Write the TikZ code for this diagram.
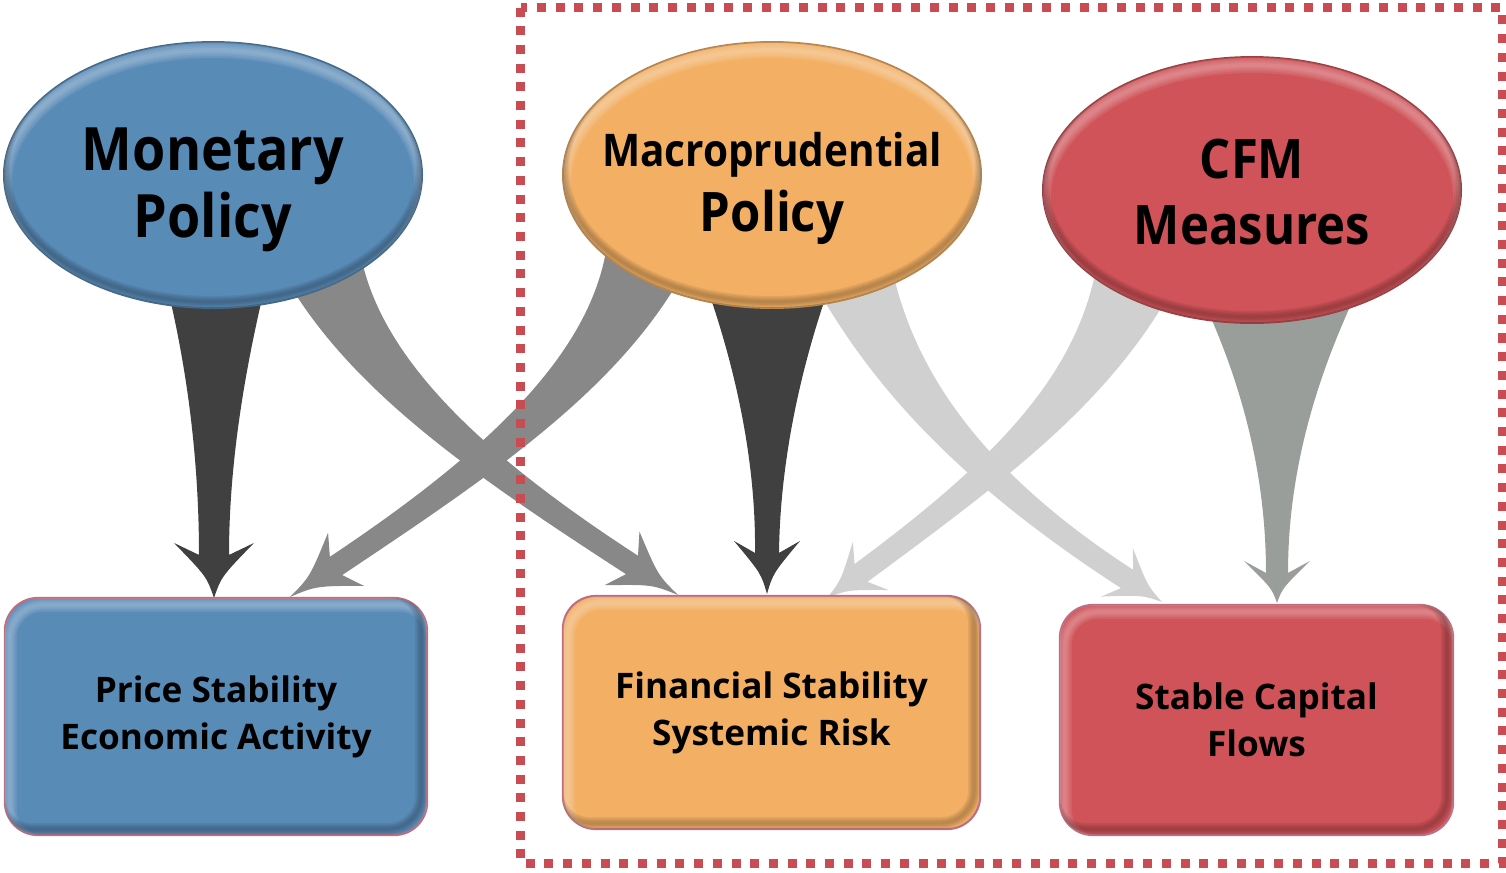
\documentclass[tikz,border=0pt]{standalone}
\usepackage{fontspec}
\setmainfont{Open Sans}
\newfontfamily\headfont{Open Sans}[FakeStretch=0.9]
\usetikzlibrary{calc}
\usetikzlibrary{shapes.geometric}
\usetikzlibrary{backgrounds}

\definecolor{monblue}{RGB}{89,139,183}
\definecolor{macorange}{RGB}{243,176,101}
\definecolor{cfmred}{RGB}{207,83,88}
\definecolor{darkarrow}{RGB}{64,64,64}
\definecolor{midarrow}{RGB}{136,136,136}
\definecolor{lightarrow}{RGB}{208,208,208}
\definecolor{sagearrow}{RGB}{153,158,154}
\definecolor{frame}{RGB}{200,76,82}
\definecolor{rim}{RGB}{190,110,130}

\tikzset{
  bubble/.style={ellipse, minimum width=4.18cm, minimum height=2.66cm, inner sep=0pt,
    outer sep=0pt, fill=#1, draw=#1!75!black, line width=0.5pt},
  bubbletext/.style={font=\headfont\bfseries\fontsize{17}{19}\selectfont, align=center, inner sep=0pt},
  goal/.style={rounded corners=0.33cm, fill=#1, draw=rim, line width=0.6pt, inner sep=0pt,
    outer sep=0pt, align=center, font=\bfseries\fontsize{10}{13.3}\selectfont},
}

% tapered arrow: colour, tail, control 1, control 2, neck, tip,
% half width at tail, half width at neck, half span of the head
\newcommand\taper[9]{%
  \pgfmathsetlengthmacro\wmid{#8+0.35*(#7-#8)}%
  \pgfmathsetlengthmacro\wctl{0.5*#8}%
  \coordinate (t0) at #2;
  \coordinate (t1) at #3;
  \coordinate (t2) at #4;
  \coordinate (t3) at #5;
  \coordinate (tip) at #6;
  \coordinate (back) at ($(t3)!0.12cm!180:(tip)$);
  \coordinate (half) at ($(t3)!0.5!(tip)$);
  \fill[#1] ($(t0)!#7!90:(t1)$) .. controls ($(t1)!\wmid!90:(t2)$) and ($(t2)!#8!90:(t3)$) .. ($(t3)!#8!90:(tip)$)
    -- ($(back)!#9!90:(t3)$) .. controls ($(half)!\wctl!90:(tip)$) .. (tip)
    .. controls ($(half)!\wctl!-90:(tip)$) .. ($(back)!#9!-90:(t3)$)
    -- ($(t3)!#8!-90:(tip)$) .. controls ($(t2)!#8!-90:(t3)$) and ($(t1)!\wmid!-90:(t2)$) .. ($(t0)!#7!-90:(t1)$)
    -- cycle;
}

% soft bevel on the ellipses and on the boxes
\newcommand\shadebubble[2]{%
  \begin{scope}
    \clip (#1.center) ellipse [x radius=209, y radius=133];
    \foreach \w in {0.04,0.08,0.12,0.16}
      \draw[#2!30!white, line width=\w cm, opacity=.13] ([yshift=-0.08cm]#1.center) ellipse [x radius=209, y radius=133];
    \foreach \w in {0.03,0.06,0.09,0.12}
      \draw[#2!45!black, line width=\w cm, opacity=.13] ([yshift=0.06cm]#1.center) ellipse [x radius=209, y radius=133];
  \end{scope}}
\newcommand\shadegoal[2]{%
  \begin{scope}[rounded corners=0.33cm]
    \clip (#1.north west) rectangle (#1.south east);
    \foreach \w in {0.035,0.07,0.105,0.14}
      \draw[#2!30!white, line width=\w cm, opacity=.12] ([shift={(5,7)}]#1.north west) rectangle ([shift={(5,7)}]#1.south east);
    \foreach \w in {0.03,0.06,0.09,0.12}
      \draw[#2!45!black, line width=\w cm, opacity=.12] ([shift={(-6,-6)}]#1.north west) rectangle ([shift={(-6,-6)}]#1.south east);
  \end{scope}}

\begin{document}
\begin{tikzpicture}[x=0.01cm,y=-0.01cm]
  \useasboundingbox (0,0) rectangle (1506,872);

  % policies
  \node[bubble=monblue] (mon) at (213,175) {};
  \node[bubble=macorange] (mac) at (772,175) {};
  \node[bubble=cfmred] (cfm) at (1252,190) {};

  % objectives
  \node[goal=monblue, minimum width=4.22cm, minimum height=2.37cm] (price) at (216,716.5) {Price Stability\\Economic Activity};
  \node[goal=macorange, minimum width=4.17cm, minimum height=2.33cm] (fin) at (771.5,712.5) {Financial Stability\\Systemic Risk};
  \node[goal=cfmred, minimum width=3.93cm, minimum height=2.30cm] (flows) at (1256.5,720) {Stable Capital\\Flows};

  \foreach \n/\c in {mon/monblue, mac/macorange, cfm/cfmred}
    \shadebubble{\n}{\c};
  \foreach \n/\c in {price/monblue, fin/macorange, flows/cfmred}
    \shadegoal{\n}{\c};

  \node[bubbletext] (montext) at ([yshift=-0.15cm]mon.center) {Monetary\\Policy};
  \node[bubbletext, font=\headfont\bfseries\fontsize{15.5}{18.5}\selectfont] (mactext) at ([yshift=-0.13cm]mac.center)
    {{\fontsize{12.8}{15}\selectfont Macroprudential}\\Policy};
  \node[bubbletext, font=\headfont\bfseries\fontsize{15.5}{19}\selectfont] (cfmtext) at ([yshift=-0.02cm]cfm.center) {CFM\\Measures};

  \begin{pgfonlayer}{background}
    \taper{lightarrow}{([shift={(80,-38)}]mac.south)}{([shift={(122,75)}]mac.south)}
      {([shift={(-280.5,-124)}]flows.north)}{([shift={(-129.5,-26)}]flows.north)}{([shift={(-94.5,-3)}]flows.north)}
      {0.40cm}{0.11cm}{0.29cm}
    \taper{lightarrow}{([shift={(-117,-48)}]cfm.south)}{([shift={(-159,65)}]cfm.south)}
      {([shift={(234.5,-130)}]fin.north)}{([shift={(89.5,-23)}]fin.north)}{([shift={(55.5,2)}]fin.north)}
      {0.40cm}{0.11cm}{0.30cm}
    \taper{midarrow}{([shift={(109,-46)}]mon.south)}{([shift={(151,67)}]mon.south)}
      {([shift={(-290.5,-129)}]fin.north)}{([shift={(-139.5,-31)}]fin.north)}{([shift={(-93.5,-1)}]fin.north)}
      {0.40cm}{0.11cm}{0.32cm}
    \taper{midarrow}{([shift={(-128,-46)}]mac.south)}{([shift={(-170,67)}]mac.south)}
      {([shift={(270,-132)}]price.north)}{([shift={(120,-32)}]price.north)}{([shift={(74,-1)}]price.north)}
      {0.40cm}{0.11cm}{0.32cm}
    \taper{sagearrow}{([shift={(26,-23)}]cfm.south)}{([shift={(26,67)}]cfm.south)}
      {([shift={(20.5,-125)}]flows.north)}{([shift={(20.5,-32)}]flows.north)}{([shift={(20.5,-2)}]flows.north)}
      {0.75cm}{0.11cm}{0.33cm}
    \taper{darkarrow}{([shift={(3,-18)}]mon.south)}{([shift={(3,72)}]mon.south)}
      {([shift={(-2,-128)}]price.north)}{([shift={(-2,-43)}]price.north)}{([shift={(-2,0)}]price.north)}
      {0.48cm}{0.15cm}{0.40cm}
    \taper{darkarrow}{([shift={(-4,-18)}]mac.south)}{([shift={(-4,72)}]mac.south)}
      {([shift={(-3.5,-126)}]fin.north)}{([shift={(-4.5,-43)}]fin.north)}{([shift={(-4.5,-2)}]fin.north)}
      {0.60cm}{0.12cm}{0.33cm}
  \end{pgfonlayer}

  % macroprudential and CFM side
  \draw[frame, line width=0.09cm, dash pattern=on 0.09cm off 0.097cm] (520.5,7.5) rectangle (1502,863);
\end{tikzpicture}
\end{document}
